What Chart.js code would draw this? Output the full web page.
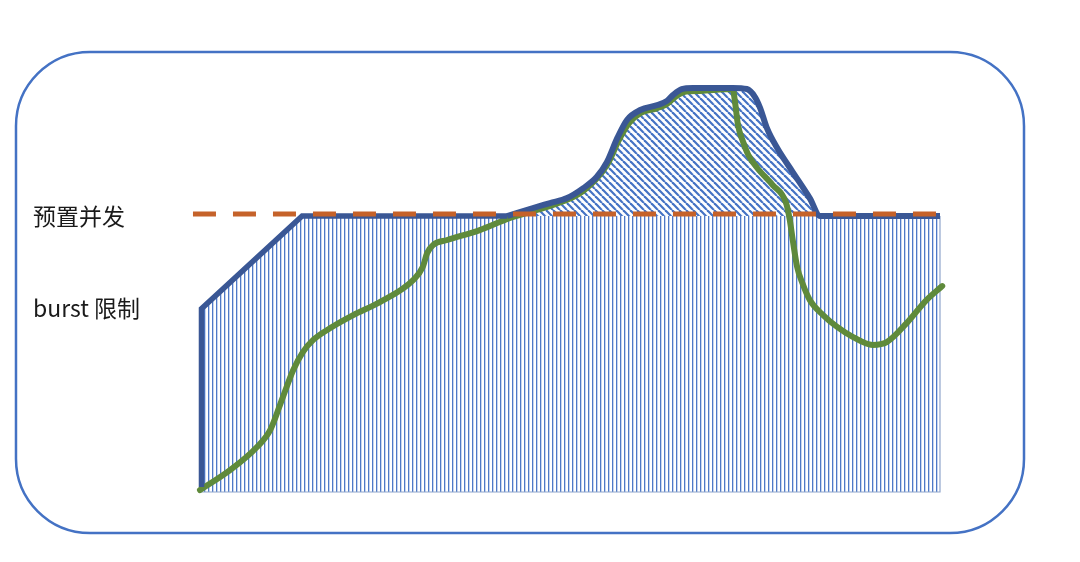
<!DOCTYPE html>
<html>
<head>
<meta charset="utf-8">
<script src="https://cdn.jsdelivr.net/npm/chart.js@4.4.1/dist/chart.umd.min.js"></script>
<style>html,body{margin:0;padding:0;background:#fff;}</style>
</head>
<body>
<canvas id="graficoConcurrencia" width="1080" height="562"></canvas>
<script>
// niveles de referencia (etiquetas del eje y)
var provisioned = 100;
var burstLimit = 66.4;
var tickValues = [burstLimit, provisioned];
var tickLabels = ['burst 限制', '预置并发'];

// limite: subida burst hasta el nivel preconfigurado
var limitX = [0.2, 0.2, 13.8, 41.5];
var limitY = [1.8, 66.4, 100, 100];

// limite por encima del preconfigurado (zona rayada diagonal)
var burstX = [41.5, 45.0, 47.3, 49.6, 51.8, 53.6, 55.0, 56.4, 57.7, 59.5, 61.8, 63.1, 63.9, 65.1, 66.6,
              72.0, 73.9, 75.0, 75.7, 76.6, 78.0, 80.1, 82.4, 83.8, 100];
var burstY = [100, 102.9, 104.7, 106.5, 110.1, 114.1, 119.6, 128.3, 134.8, 138.4, 140.2, 141.7, 143.8, 146.0, 146.4,
              146.4, 146.0, 143.1, 139.1, 131.9, 124.6, 115.9, 106.5, 100, 100];

// concurrencia real (linea verde)
var actualX = [0, 4.1, 7.7, 9.5, 11.2, 12.6, 13.9, 15.3, 17.6, 20.7, 24.3, 28.8, 30.1, 30.7, 31.5, 33.4, 37.8, 41.9,
               45.0, 47.3, 51.8, 55.0, 56.6, 58.0, 59.5, 61.8, 63.1, 64.2, 65.4, 67.6, 72.0,
               72.3, 72.7, 73.4, 74.1, 75.3, 77.4, 79.2, 79.7, 80.1, 80.7, 81.4, 82.4, 84.2, 86.1, 88.2, 90.9, 92.8, 95.5, 98.2, 100.3];
var actualY = [0.7, 8.0, 16.3, 22.5, 34.4, 44.2, 50.7, 55.1, 59.4, 64.1, 68.8, 76.8, 81.5, 86.6, 89.5, 91.3, 94.9, 99.3,
               101.8, 103.6, 109.1, 118.5, 127.5, 133.7, 137.3, 139.1, 140.6, 143.1, 144.9, 145.3, 146.0,
               141.3, 133.0, 126.8, 122.1, 117.4, 111.2, 104.7, 98.6, 91.3, 81.5, 75.7, 69.6, 64.1, 59.8, 56.2, 53.3, 54.3, 61.2, 69.6, 74.6];

// linea discontinua del preconfigurado
var presetX = [-0.95, 100];
var presetY = [100.7, 100.7];

// zona preconfigurada (rayado vertical)
var areaX = [0, 13.8, 100];
var areaY = [burstLimit, provisioned, provisioned];
var outlineX = [0, 100, 100];
var outlineY = [0, 0, 100];

function puntos(xs, ys) {
	return xs.map(function(x, i){ return {x: x, y: ys[i]}; });
}

// patrones de rayado
function patronVertical() {
	var c = document.createElement('canvas');
	c.width = 4; c.height = 4;
	var g = c.getContext('2d');
	g.fillStyle = 'rgba(68,114,196,0.95)';
	g.fillRect(0, 0, 1, 4);
	g.fillStyle = 'rgba(68,114,196,0.3)';
	g.fillRect(1, 0, 1, 4);
	return g.createPattern(c, 'repeat');
}
function patronDiagonal() {
	var s = 7;
	var c = document.createElement('canvas');
	c.width = s; c.height = s;
	var g = c.getContext('2d');
	g.strokeStyle = '#4472c4';
	g.lineWidth = 2.2;
	[-s, 0, s].forEach(function(k){
		g.beginPath();
		g.moveTo(k, 0);
		g.lineTo(k + s, s);
		g.stroke();
	});
	return g.createPattern(c, 'repeat');
}

// marco redondeado alrededor de todo
var marco = {
	id: 'marco',
	beforeDraw: function(chart) {
		var ctx = chart.ctx;
		var x0 = 16, y0 = 52, x1 = 1024, y1 = 533, r = 74;
		ctx.save();
		ctx.strokeStyle = '#4472c4';
		ctx.lineWidth = 2.5;
		ctx.beginPath();
		ctx.moveTo(x0 + r, y0);
		ctx.arcTo(x1, y0, x1, y1, r);
		ctx.arcTo(x1, y1, x0, y1, r);
		ctx.arcTo(x0, y1, x0, y0, r);
		ctx.arcTo(x0, y0, x1, y0, r);
		ctx.closePath();
		ctx.stroke();
		ctx.restore();
	}
};

var comun = {pointRadius: 0, clip: false, tension: 0};

myChartConcurrencia = new Chart('graficoConcurrencia', {
	type: 'line',
	data: {
		datasets: [
			Object.assign({}, comun, {
				label: 'preset',
				data: puntos(presetX, presetY),
				borderColor: '#c5622a',
				borderWidth: 5,
				borderDash: [23, 17],
				fill: false,
				order: 0
			}),
			Object.assign({}, comun, {
				label: 'limit',
				data: puntos(limitX, limitY),
				borderColor: '#3a5795',
				borderWidth: 5.5,
				borderJoinStyle: 'miter',
				fill: false,
				order: 1
			}),
			Object.assign({}, comun, {
				label: 'burst',
				data: puntos(burstX, burstY),
				borderColor: '#3a5795',
				borderWidth: 6,
				cubicInterpolationMode: 'monotone',
				fill: {value: provisioned},
				backgroundColor: patronDiagonal(),
				order: 1
			}),
			Object.assign({}, comun, {
				label: 'actual',
				data: puntos(actualX, actualY),
				borderColor: '#5f8a3b',
				borderWidth: 6,
				borderCapStyle: 'round',
				cubicInterpolationMode: 'monotone',
				fill: false,
				order: 2
			}),
			Object.assign({}, comun, {
				label: 'outline',
				data: puntos(outlineX, outlineY),
				borderColor: '#8fa5cc',
				borderWidth: 1.2,
				fill: false,
				order: 3
			}),
			Object.assign({}, comun, {
				label: 'area',
				data: puntos(areaX, areaY),
				borderWidth: 0,
				fill: 'origin',
				backgroundColor: patronVertical(),
				order: 4
			})
		]
	},
	options: {
		responsive: false,
		animation: false,
		layout: {padding: {left: 33, right: 140, top: 78, bottom: 70}},
		plugins: {
			legend: {display: false},
			tooltip: {enabled: false},
			filler: {drawTime: 'beforeDatasetsDraw'}
		},
		scales: {
			x: {type: 'linear', min: 0, max: 100, display: false},
			y: {
				type: 'linear', min: 0, max: 150,
				grid: {display: false},
				border: {display: false},
				afterBuildTicks: function(scale) {
					scale.ticks = tickValues.map(function(v){ return {value: v}; });
				},
				afterFit: function(scale) { scale.width = 167; },
				ticks: {
					crossAlign: 'far',
					padding: 0,
					color: '#1a1a1a',
					font: {family: '"Noto Sans CJK SC", "Noto Sans", sans-serif', size: 23},
					callback: function(value) {
						var i = tickValues.indexOf(value);
						return i >= 0 ? tickLabels[i] : '';
					}
				}
			}
		}
	},
	plugins: [marco]
});
</script>
</body>
</html>
